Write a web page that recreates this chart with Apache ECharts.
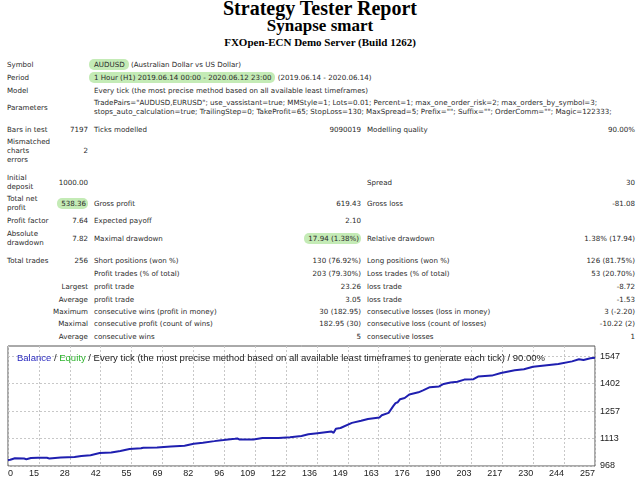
<!DOCTYPE html>
<html>
<head>
<meta charset="utf-8">
<script src="https://cdn.jsdelivr.net/npm/echarts@6/dist/echarts.min.js"></script>
<style>
  body { margin: 0; background: #fff; }
  #page { position: relative; width: 640px; height: 480px; overflow: hidden; }
  .h { position: absolute; left: 0; width: 640px; text-align: center; font-family: 'Liberation Serif', serif; font-weight: bold; color: #000; white-space: nowrap; }
  .t { position: absolute; font: 7.1px 'DejaVu Sans', sans-serif; line-height: 9px; color: #2a2a2a; white-space: nowrap; }
  .hl { background: #c4ebb6; border-radius: 5px; padding: 1px 4px 1px 5px; margin-left: -5px; }
  .hr { background: #c4ebb6; border-radius: 5px; padding: 1px 2px 1px 4px; }
  #chart { position: absolute; left: 0; top: 340px; width: 640px; height: 140px; }
</style>
</head>
<body>
<div id="page">
  <div class="h" style="top:-2px;font-size:20px;line-height:20px">Strategy Tester Report</div>
  <div class="h" style="top:17px;font-size:17px;line-height:17px">Synapse smart</div>
  <div class="h" style="top:37px;font-size:11px;line-height:11px">FXOpen-ECN Demo Server (Build 1262)</div>

  <div class="t" style="left:7px;top:60px">Symbol</div>
  <div class="t" style="left:94px;top:60px"><span class="hl">AUDUSD</span> (Australian Dollar vs US Dollar)</div>
  <div class="t" style="left:7px;top:73px">Period</div>
  <div class="t" style="left:94px;top:73px"><span class="hl">1 Hour (H1) 2019.06.14 00:00 - 2020.06.12 23:00</span> (2019.06.14 - 2020.06.14)</div>
  <div class="t" style="left:7px;top:86px">Model</div>
  <div class="t" style="left:94px;top:86px">Every tick (the most precise method based on all available least timeframes)</div>
  <div class="t" style="left:7px;top:103px">Parameters</div>
  <div class="t" style="left:94px;top:98px">TradePairs="AUDUSD,EURUSD"; use_vassistant=true; MMStyle=1; Lots=0.01; Percent=1; max_one_order_risk=2; max_orders_by_symbol=3;<br>stops_auto_calculation=true; TrailingStep=0; TakeProfit=65; StopLoss=130; MaxSpread=5; Prefix=""; Suffix=""; OrderComm=""; Magic=122333;</div>

  <div class="t" style="left:7px;top:125px">Bars in test</div>
  <div class="t" style="right:552px;top:125px">7197</div>
  <div class="t" style="left:94px;top:125px">Ticks modelled</div>
  <div class="t" style="right:279px;top:125px">9090019</div>
  <div class="t" style="left:367px;top:125px">Modelling quality</div>
  <div class="t" style="right:5px;top:125px">90.00%</div>

  <div class="t" style="left:7px;top:137px">Mismatched<br>charts<br>errors</div>
  <div class="t" style="right:552px;top:146px">2</div>

  <div class="t" style="left:7px;top:173px">Initial<br>deposit</div>
  <div class="t" style="right:552px;top:178px">1000.00</div>
  <div class="t" style="left:367px;top:178px">Spread</div>
  <div class="t" style="right:5px;top:178px">30</div>

  <div class="t" style="left:7px;top:194px">Total net<br>profit</div>
  <div class="t" style="right:552px;top:199px"><span class="hr">538.36</span></div>
  <div class="t" style="left:94px;top:199px">Gross profit</div>
  <div class="t" style="right:279px;top:199px">619.43</div>
  <div class="t" style="left:367px;top:199px">Gross loss</div>
  <div class="t" style="right:5px;top:199px">-81.08</div>

  <div class="t" style="left:7px;top:216px">Profit factor</div>
  <div class="t" style="right:552px;top:216px">7.64</div>
  <div class="t" style="left:94px;top:216px">Expected payoff</div>
  <div class="t" style="right:279px;top:216px">2.10</div>

  <div class="t" style="left:7px;top:229px">Absolute<br>drawdown</div>
  <div class="t" style="right:552px;top:234px">7.82</div>
  <div class="t" style="left:94px;top:234px">Maximal drawdown</div>
  <div class="t" style="right:279px;top:234px"><span class="hr">17.94 (1.38%)</span></div>
  <div class="t" style="left:367px;top:234px">Relative drawdown</div>
  <div class="t" style="right:5px;top:234px">1.38% (17.94)</div>

  <div class="t" style="left:7px;top:256px">Total trades</div>
  <div class="t" style="right:552px;top:256px">256</div>
  <div class="t" style="left:94px;top:256px">Short positions (won %)</div>
  <div class="t" style="right:279px;top:256px">130 (76.92%)</div>
  <div class="t" style="left:367px;top:256px">Long positions (won %)</div>
  <div class="t" style="right:5px;top:256px">126 (81.75%)</div>

  <div class="t" style="left:94px;top:269px">Profit trades (% of total)</div>
  <div class="t" style="right:279px;top:269px">203 (79.30%)</div>
  <div class="t" style="left:367px;top:269px">Loss trades (% of total)</div>
  <div class="t" style="right:5px;top:269px">53 (20.70%)</div>

  <div class="t" style="right:552px;top:282px">Largest</div>
  <div class="t" style="left:94px;top:282px">profit trade</div>
  <div class="t" style="right:279px;top:282px">23.26</div>
  <div class="t" style="left:367px;top:282px">loss trade</div>
  <div class="t" style="right:5px;top:282px">-8.72</div>

  <div class="t" style="right:552px;top:295px">Average</div>
  <div class="t" style="left:94px;top:295px">profit trade</div>
  <div class="t" style="right:279px;top:295px">3.05</div>
  <div class="t" style="left:367px;top:295px">loss trade</div>
  <div class="t" style="right:5px;top:295px">-1.53</div>

  <div class="t" style="right:552px;top:307px">Maximum</div>
  <div class="t" style="left:94px;top:307px">consecutive wins (profit in money)</div>
  <div class="t" style="right:279px;top:307px">30 (182.95)</div>
  <div class="t" style="left:367px;top:307px">consecutive losses (loss in money)</div>
  <div class="t" style="right:5px;top:307px">3 (-2.20)</div>

  <div class="t" style="right:552px;top:319px">Maximal</div>
  <div class="t" style="left:94px;top:319px">consecutive profit (count of wins)</div>
  <div class="t" style="right:279px;top:319px">182.95 (30)</div>
  <div class="t" style="left:367px;top:319px">consecutive loss (count of losses)</div>
  <div class="t" style="right:5px;top:319px">-10.22 (2)</div>

  <div class="t" style="right:552px;top:332px">Average</div>
  <div class="t" style="left:94px;top:332px">consecutive wins</div>
  <div class="t" style="right:279px;top:332px">5</div>
  <div class="t" style="left:367px;top:332px">consecutive losses</div>
  <div class="t" style="right:5px;top:332px">1</div>

  <div id="chart"></div>
</div>
<script type="text/javascript">
// balance curve (trade number -> balance)
var tradeNo = [0, 1, 3, 7, 8, 10, 13, 17, 18, 23, 29, 32, 36, 40, 45, 49, 53, 58, 59, 65,
    68, 71, 77, 81, 85, 90, 93, 94, 99, 100, 101, 107, 111, 118, 123, 128, 131, 135, 141, 142,
    143, 145, 150, 154, 157, 162, 163, 166, 168, 169, 170, 171, 173, 175, 179, 181, 184, 188, 190, 193,
    196, 199, 203, 205, 211, 215, 221, 225, 229, 236, 240, 246, 249, 251, 254, 256];
var balance = [1000, 1001, 1009, 1007, 1004, 1010, 1012, 1011, 1008, 1013, 1016, 1021, 1025, 1036, 1039, 1047, 1057, 1061, 1064, 1065,
    1068, 1071, 1075, 1085, 1091, 1099, 1104, 1105, 1111, 1113, 1107, 1107, 1115, 1116, 1119, 1126, 1135, 1141, 1150, 1143,
    1164, 1168, 1195, 1206, 1216, 1224, 1235, 1248, 1283, 1299, 1304, 1320, 1326, 1345, 1356, 1366, 1383, 1387, 1400, 1408,
    1412, 1423, 1425, 1439, 1444, 1458, 1472, 1478, 1491, 1500, 1505, 1519, 1530, 1526, 1535, 1538.36];

var xTickLabels = ['0', '15', '28', '42', '55', '69', '82', '96', '109', '122',
    '136', '149', '163', '176', '190', '203', '217', '230', '244', '257'];
var yTickValues = [968, 1113, 1257, 1402, 1547];

var xMax = 256;
var yMin = 968;
var yMax = 1600;

// MT4 spaces the trade-number labels evenly across the width
var step = xMax / (xTickLabels.length - 1);
var xTickPos = xTickLabels.map(function (s, i) { return i * step; });

var myChart = echarts.init(document.getElementById('chart'));

var option = {
    animation: false,
    backgroundColor: 'transparent',
    textStyle: { fontFamily: 'Liberation Sans' },
    title: {
        left: 12,
        top: 8,
        text: '{b|Balance} / {e|Equity} / Every tick (the most precise method based on all available least timeframes to generate each tick) / 90.00%',
        textStyle: {
            fontSize: 9.5,
            fontWeight: 'normal',
            color: '#222',
            fontFamily: 'Liberation Sans',
            rich: {
                b: { color: '#2b2bc0', fontSize: 9.5, fontFamily: 'Liberation Sans' },
                e: { color: '#2fb52f', fontSize: 9.5, fontFamily: 'Liberation Sans' }
            }
        }
    },
    grid: {
        left: 8,
        top: 6,
        width: 587,
        height: 120,
        show: true,
        borderColor: '#555',
        borderWidth: 1,
        backgroundColor: '#fff'
    },
    xAxis: {
        type: 'value',
        min: 0,
        max: xMax,
        axisLine: { show: false },
        axisTick: { show: false, customValues: xTickPos },
        axisLabel: {
            customValues: xTickPos,
            align: 'right',
            alignMinLabel: 'left',
            margin: 3,
            fontSize: 9,
            color: '#222',
            formatter: function (v) {
                return xTickLabels[Math.round(v / step)];
            }
        },
        splitLine: {
            show: true,
            lineStyle: { color: '#c8c8c8', type: [2, 2], width: 1 }
        }
    },
    yAxis: {
        type: 'value',
        position: 'right',
        min: yMin,
        max: yMax,
        axisLine: { show: false },
        axisTick: { show: false, customValues: yTickValues },
        axisLabel: {
            customValues: yTickValues,
            margin: 5,
            fontSize: 9,
            color: '#222',
            formatter: function (v) { return String(v); }
        },
        splitLine: {
            show: true,
            lineStyle: { color: '#c8c8c8', type: [2, 2], width: 1 }
        }
    },
    series: [{
        name: 'Balance',
        type: 'line',
        data: tradeNo.map(function (t, i) { return [t, balance[i]]; }),
        showSymbol: false,
        lineStyle: { color: '#1f1fb0', width: 2 },
        itemStyle: { color: '#1f1fb0' }
    }]
};

myChart.setOption(option);
</script>
</body>
</html>
